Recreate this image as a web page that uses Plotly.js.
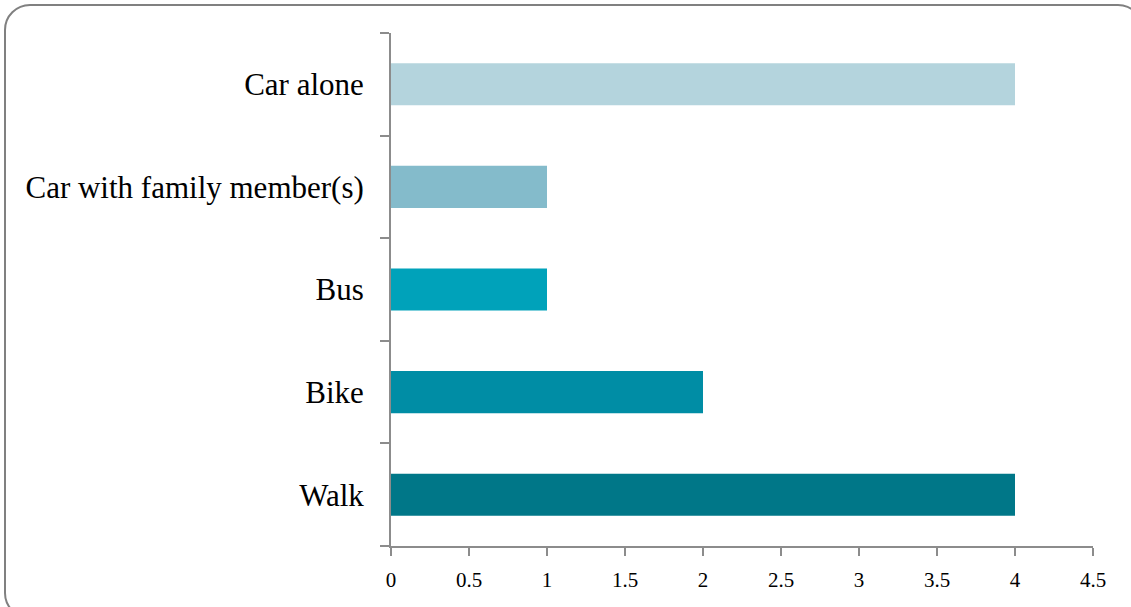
<!DOCTYPE html>
<html>
<head>
<meta charset="utf-8">
<script src="https://cdn.plot.ly/plotly-3.0.1.min.js"></script>
<style>
  html, body { margin: 0; padding: 0; background: #fff; }
  #frame { position: absolute; left: 4px; top: 4px; width: 1140px; height: 615px; border: 2px solid #808080; border-radius: 26px; box-sizing: border-box; pointer-events: none; }
  #chart { position: absolute; left: 0; top: 0; width: 1131px; height: 607px; }
</style>
</head>
<body>
<div id="chart"></div>
<div id="frame"></div>
<script>
const categories = ["Walk", "Bike", "Bus", "Car with family member(s)", "Car alone"];
const values = [4, 2, 1, 1, 4];
const barColors = ["#007788", "#008DA5", "#00A2BA", "#84BBCB", "#B4D4DD"];
const xTicks = [0, 0.5, 1, 1.5, 2, 2.5, 3, 3.5, 4, 4.5];

const trace = {
  type: "bar",
  orientation: "h",
  y: categories,
  x: values,
  marker: { color: barColors },
  hoverinfo: "x+y"
};

const layout = {
  width: 1131,
  height: 607,
  margin: { l: 391, r: 38, t: 33, b: 61 },
  paper_bgcolor: "rgba(0,0,0,0)",
  plot_bgcolor: "rgba(0,0,0,0)",
  showlegend: false,
  bargap: 0.59,
  font: { family: "Liberation Serif, DejaVu Serif, serif", color: "#000" },
  xaxis: {
    range: [0, 4.5],
    tickvals: xTicks,
    ticktext: xTicks.map(String),
    showgrid: false,
    zeroline: false,
    showline: true,
    linecolor: "#8c8c8c",
    linewidth: 2,
    ticks: "outside",
    ticklen: 8,
    tickwidth: 2,
    tickcolor: "#8c8c8c",
    tickfont: { size: 21 },
    ticklabelstandoff: 6
  },
  yaxis: {
    type: "category",
    showgrid: false,
    zeroline: false,
    showline: true,
    linecolor: "#8c8c8c",
    linewidth: 2,
    ticks: "outside",
    tickson: "boundaries",
    ticklen: 9,
    tickwidth: 2,
    tickcolor: "#8c8c8c",
    tickfont: { size: 31 },
    ticklabelstandoff: 19
  }
};

Plotly.newPlot("chart", [trace], layout, { displayModeBar: false, staticPlot: true });
</script>
</body>
</html>
